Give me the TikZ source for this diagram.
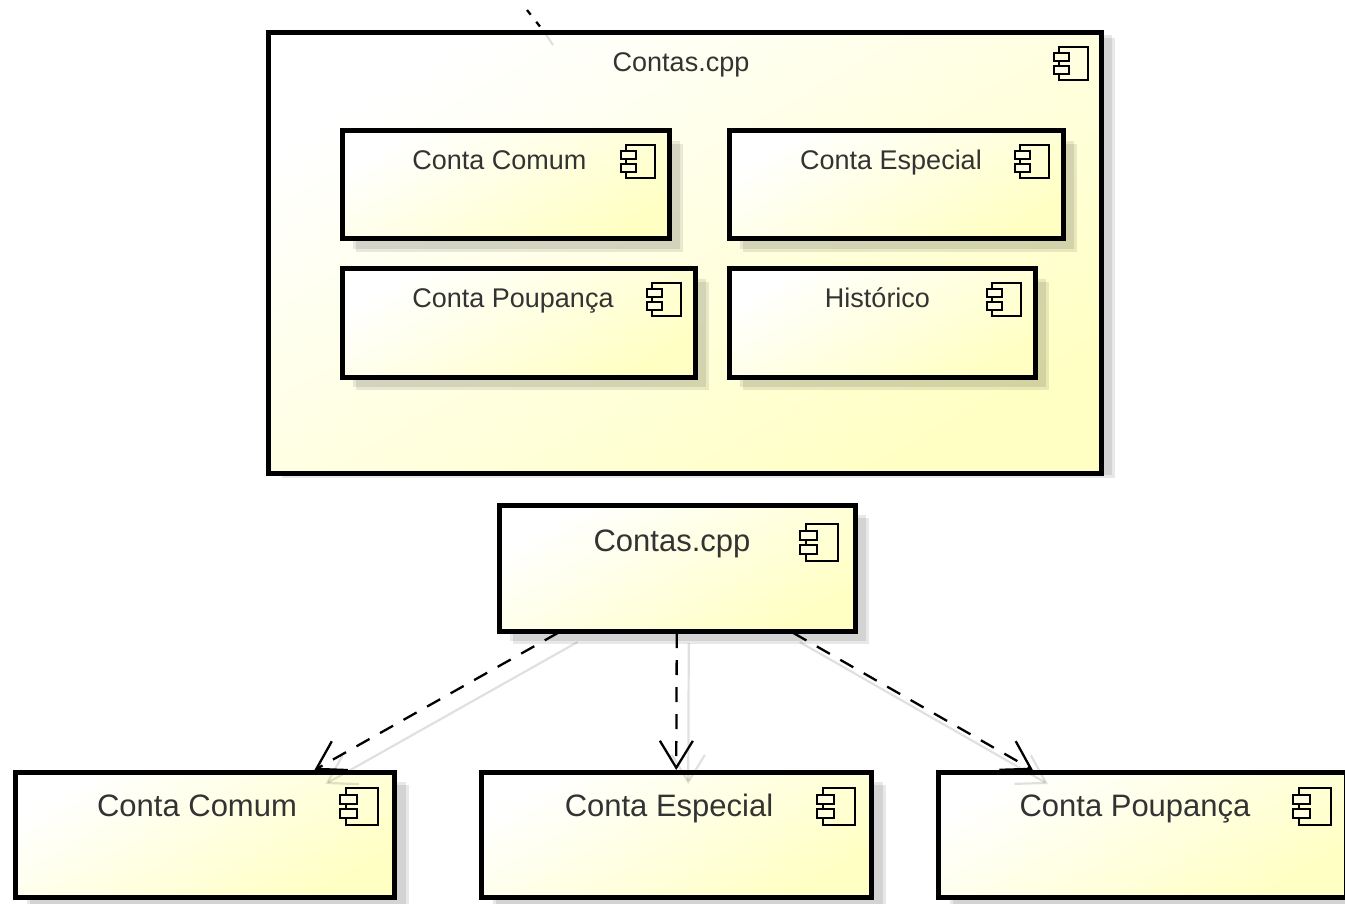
\documentclass[tikz,border=0pt]{standalone}
\usepackage{fontspec}
\setmainfont{Liberation Sans}
\usetikzlibrary{arrows.meta}
\definecolor{compyellow}{HTML}{FFFFC4}
\definecolor{iconfill}{HTML}{FFFFE4}
\tikzset{
  x=1pt,y=-1pt,
  compbox/.style={draw=black,line width=5pt,left color=white,right color=compyellow,shading angle=30,inner sep=0pt,outer sep=2pt},
  boxshadow/.style={fill=black,fill opacity=.09,draw=none},
  title/.style={anchor=base,inner sep=0pt,font=\fontsize{27}{27}\selectfont,text=black!80},
  bigtitle/.style={anchor=base,inner sep=0pt,font=\fontsize{31}{31}\selectfont,text=black!80},
  dep/.style={line width=2.3pt,dash pattern=on 15pt off 12pt,-{Straight Barb[length=27pt,width=33pt,line width=2.3pt]}},
  depshadow/.style={line width=2.2pt,draw=black,draw opacity=.12,-{Straight Barb[length=27pt,width=33pt,line width=2.2pt]}},
  stub/.style={line width=2.3pt,dash pattern=on 6pt off 9pt},
}
% \compnode{name}{x1}{y1}{x2}{y2}{shadow dx}{shadow dy}
\newcommand{\compnode}[7]{%
  \fill[boxshadow] ({#2+#6},{#3+#7}) rectangle ({#4+#6},{#5+#7});
  \fill[boxshadow] ({#2+#6-3},{#3+#7-3}) rectangle ({#4+#6-3},{#5+#7-3});
  \path[compbox] (#2,#3) rectangle (#4,#5);
  \coordinate (#1c) at ({(#2+#4)/2},{(#3+#5)/2});
  \node[minimum width={#4-#2+4},minimum height={#5-#3+4},inner sep=0pt,outer sep=0pt] (#1) at (#1c) {};
}
% \compicon{right}{top}{scale}
\newcommand{\compicon}[3]{%
  \begin{scope}[shift={(#1,#2)},scale=#3,line width=2pt]
    \draw (-29,0) rectangle (0,33);
    \draw[fill=iconfill] (-34,6) rectangle (-19,14);
    \draw[fill=iconfill] (-34,19) rectangle (-19,27);
  \end{scope}%
}
\begin{document}
\begin{tikzpicture}
\useasboundingbox (0,0) rectangle (1345,904);
\clip (0,0) rectangle (1345,904);
\fill[white] (0,0) rectangle (1345,904);

\compnode{outer}{268}{33}{1101}{473}{14}{5}
\compicon{1088}{47}{1}
\compnode{comum}{342}{131}{669}{239}{14}{13}
\compicon{655}{145}{1}
\compnode{especial}{729}{131}{1063}{239}{14}{13}
\compicon{1049}{145}{1}
\compnode{poupanca}{342}{269}{695}{377}{14}{13}
\compicon{681}{283}{1}
\compnode{historico}{729}{269}{1035}{377}{14}{13}
\compicon{1021}{283}{1}
\compnode{contas}{499}{505}{855}{631}{14}{13}
\compicon{838}{524}{1.12}
\compnode{bcomum}{15}{772}{394}{897}{15}{13}
\compicon{378}{788}{1.12}
\compnode{bespecial}{481}{772}{871}{897}{15}{13}
\compicon{855}{788}{1.12}
\compnode{bpoupanca}{938}{772}{1346}{897}{15}{13}
\compicon{1331}{788}{1.12}

\node[title] (t0) at (681,72) {Contas.cpp};
\node[title] (t1) at (499.5,170) {Conta Comum};
\node[title] (t2) at (891,170) {Conta Especial};
\node[title] (t3) at (513,308) {Conta Poupança};
\node[title] (t4) at (877.5,308) {Histórico};
\node[bigtitle] (t5) at (672,551) {Contas.cpp};
\node[bigtitle] (t6) at (197,816) {Conta Comum};
\node[bigtitle] (t7) at (669,816) {Conta Especial};
\node[bigtitle] (t8) at (1135,816) {Conta Poupança};

\draw[dep,transform canvas={shift={(-4pt,0pt)}}] (contas) -- (bcomum);
\draw[dep] (contas) -- (bespecial);
\draw[dep,transform canvas={shift={(3pt,0pt)}}] (contas) -- (bpoupanca);
\draw[depshadow,transform canvas={shift={(7pt,-14pt)}},shorten <=-10pt] (contas) -- (bcomum);
\draw[depshadow,transform canvas={shift={(12pt,-14pt)}},shorten <=-4pt] (contas) -- (bespecial);
\draw[depshadow,transform canvas={shift={(18pt,-14pt)}},shorten <=-10pt] (contas) -- (bpoupanca);

\coordinate (stubA) at (527,10);
\coordinate (stubB) at (545,33);
\coordinate (stubC) at (553,45);
\draw[stub] (stubA) -- (stubB);
\draw[line width=2pt,draw=black,draw opacity=.13] (stubB) -- (stubC);
\end{tikzpicture}
\end{document}
